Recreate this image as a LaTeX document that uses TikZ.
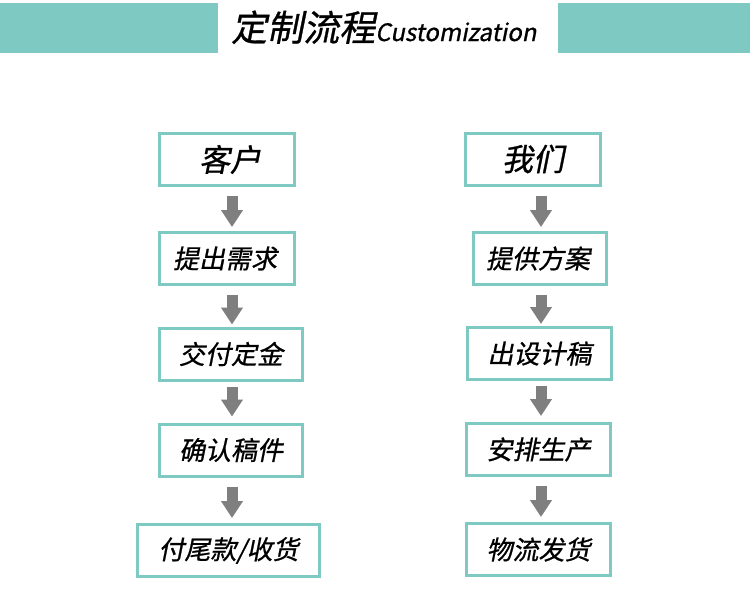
\documentclass[tikz,border=0pt]{standalone}
\usepackage{fontspec}
\usetikzlibrary{arrows.meta}
\newfontfamily\cjkslant[FakeSlant=0.2,FakeBold=0.8]{Noto Sans CJK SC}
\definecolor{tealbar}{HTML}{7ECAC3}
\definecolor{arrgray}{HTML}{7F7F7F}
\tikzset{
  box/.style={draw=tealbar, line width=3pt, fill=white, inner sep=0pt,
    minimum height=52pt, font=\cjkslant\fontsize{26}{28}\selectfont, text=black},
  bigbox/.style={box, font=\cjkslant\fontsize{31}{33}\selectfont},
  flowarrow/.style={draw=arrgray, line width=11pt,
    -{Triangle[width=21pt,length=17pt]}, shorten <=9pt, shorten >=4pt},
  bar/.style={fill=tealbar, draw=none}
}
\begin{document}
\begin{tikzpicture}[x=1pt, y=-1pt]
\useasboundingbox (0,0) rectangle (750,605);
\fill[white] (0,0) rectangle (750,605);
% header bars
\fill[bar] (0,3) rectangle (218,53);
\fill[bar] (558,3) rectangle (750,53);
\node[anchor=base west, inner sep=0pt, text=black] (title) at (231,41)
  {\cjkslant\fontsize{36}{38}\selectfont 定制流程\fontsize{24}{26}\selectfont Customization};
% x positions of the arrows
\coordinate (lx) at (232,0);
\coordinate (rx) at (541,0);
% left column
\node[bigbox, minimum width=135pt] (c1) at (227,159.5) {\hspace*{6pt}客户};
\node[box, minimum width=135pt] (c2) at (227,258.5) {提出需求\hspace*{4pt}};
\node[box, minimum width=143pt] (c3) at (231,354) {交付定金};
\node[box, minimum width=143pt] (c4) at (231,450) {确认稿件};
\node[box, minimum width=182pt] (c5) at (228.5,550.5) {付尾款/收货};
% right column
\node[bigbox, minimum width=135pt] (w1) at (533,159) {我们};
\node[box, minimum width=133pt] (w2) at (540,258.5) {提供方案\hspace*{4pt}};
\node[box, minimum width=144pt] (w3) at (539.5,353.5) {出设计稿};
\node[box, minimum width=144pt] (w4) at (538.5,449.5) {安排生产};
\node[box, minimum width=144pt] (w5) at (538.5,549.5) {物流发货};
% arrows
\draw[flowarrow] (c1.south -| lx) -- (c2.north -| lx);
\draw[flowarrow, shorten >=2pt] (c2.south -| lx) -- (c3.north -| lx);
\draw[flowarrow, shorten <=5pt, shorten >=6pt] (c3.south -| lx) -- (c4.north -| lx);
\draw[flowarrow, shorten >=5pt] (c4.south -| lx) -- (c5.north -| lx);
\draw[flowarrow] (w1.south -| rx) -- (w2.north -| rx);
\draw[flowarrow, shorten >=2pt] (w2.south -| rx) -- (w3.north -| rx);
\draw[flowarrow, shorten <=5pt, shorten >=6pt] (w3.south -| rx) -- (w4.north -| rx);
\draw[flowarrow, shorten >=5pt] (w4.south -| rx) -- (w5.north -| rx);
\end{tikzpicture}
\end{document}
